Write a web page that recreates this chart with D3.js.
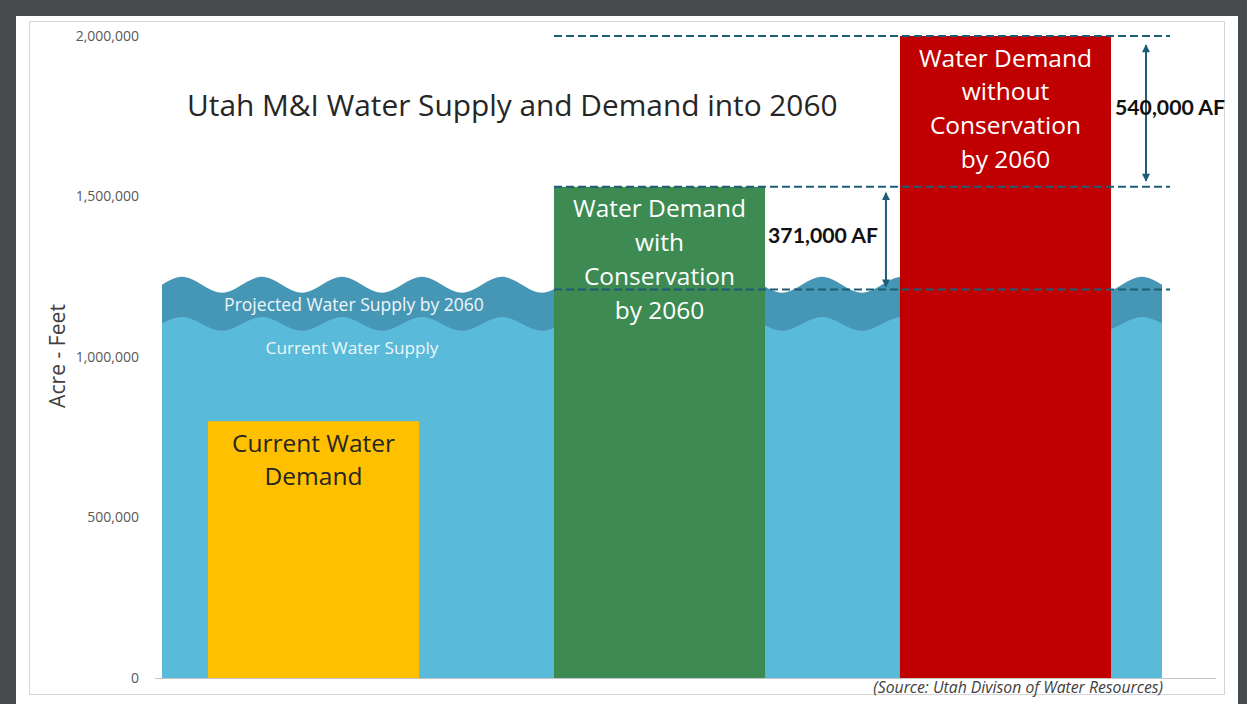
<!DOCTYPE html>
<html><head><meta charset="utf-8">
<script src="https://cdn.jsdelivr.net/npm/d3@7"></script>
<style>html,body{margin:0;padding:0;background:#484b4e;overflow:hidden} svg{display:block}</style>
</head><body><svg id="c" width="1247" height="704"></svg>
<script>
// ---------- data ----------
const categories = ["Current Water Demand", "Water Demand with Conservation by 2060", "Water Demand without Conservation by 2060"];
const demandValues = [800000, 1530000, 2000000];
const barLabelLines = [["Current Water", "Demand"], ["Water Demand", "with", "Conservation", "by 2060"], ["Water Demand", "without", "Conservation", "by 2060"]];
const yTicks = [0, 500000, 1000000, 1500000, 2000000];
const supplyLevel2060 = 1210000;
// crest / trough levels of the supply waves (edge, 25 alternating extremes, edge)
const projectedSupplyWave = [1225000, 1250000, 1200000, 1250000, 1200000, 1250000, 1200000, 1250000, 1200000, 1250000, 1200000, 1250000, 1200000, 1250000, 1200000, 1250000, 1200000, 1250000, 1200000, 1250000, 1200000, 1250000, 1200000, 1250000, 1200000, 1250000, 1225000];
const currentSupplyWave = [1105000, 1125000, 1082000, 1125000, 1082000, 1125000, 1082000, 1125000, 1082000, 1125000, 1082000, 1125000, 1082000, 1125000, 1082000, 1125000, 1082000, 1125000, 1082000, 1125000, 1082000, 1125000, 1082000, 1125000, 1082000, 1125000, 1105000];
const supplyLabels = ["Projected Water Supply by 2060", "Current Water Supply"];
const gapLabels = ["371,000 AF", "540,000 AF"];
const titleText = "Utah M&I Water Supply and Demand into 2060";
const yAxisTitle = "Acre - Feet";
const sourceText = "(Source: Utah Divison of Water Resources)";

// ---------- styles ----------
const barFill = ["#ffc000", "#3d8a53", "#c00000"];
const barText = ["#262626", "#ffffff", "#ffffff"];
const annoColor = "#1e5c77";
const sans = "'Open Sans', 'Noto Sans', sans-serif";

const svg = d3.select("#c");
svg.append("rect").attr("x", 16).attr("y", 16).attr("width", 1222).attr("height", 700).attr("fill", "#ffffff");
svg.append("rect").attr("x", 29.5).attr("y", 21.5).attr("width", 1195).attr("height", 673)
  .attr("fill", "none").attr("stroke", "#d6d6d6").attr("stroke-width", 1);

const y = d3.scaleLinear().domain([0, 2000000]).range([678, 36]);
const x = d3.scaleBand().domain(categories).range([208, 1111]).paddingInner(0.39).paddingOuter(0);
const xw = d3.scaleLinear().domain([0, 24]).range([182, 1142]);
const waveIdx = (i, n) => i === 0 ? -0.5 : (i === n - 1 ? 24.5 : i - 1);

function fit(sel, w) {
  const cur = sel.node().getComputedTextLength();
  const fs = parseFloat(sel.attr("font-size"));
  sel.attr("font-size", fs * w / cur);
  return fs * w / cur;
}

// ---------- water ----------
function waveArea(levels) {
  const n = levels.length;
  const pts = levels.map((v, i) => [xw(waveIdx(i, n)), y(v)]);
  return d3.area().x(d => d[0]).y0(y(0)).y1(d => d[1]).curve(d3.curveMonotoneX)(pts);
}
svg.append("path").attr("d", waveArea(projectedSupplyWave)).attr("fill", "#4696b5");
svg.append("path").attr("d", waveArea(currentSupplyWave)).attr("fill", "#5abad9");

// axis baseline
svg.append("line").attr("x1", 155).attr("x2", 1216).attr("y1", y(0) + 0.5).attr("y2", y(0) + 0.5)
  .attr("stroke", "#c4c4c4").attr("stroke-width", 1);

// supply labels
const sl1 = svg.append("text").attr("x", 354).attr("y", 305).attr("dy", "0.35em").attr("text-anchor", "middle")
  .attr("font-family", sans).attr("font-size", 16).attr("fill", "#eef7fb").text(supplyLabels[0]);
fit(sl1, 260);
const sl2 = svg.append("text").attr("x", 352).attr("y", 348).attr("dy", "0.35em").attr("text-anchor", "middle")
  .attr("font-family", sans).attr("font-size", 16).attr("fill", "#eef7fb").text(supplyLabels[1]);
fit(sl2, 173);

// ---------- bars ----------
svg.selectAll("rect.bar").data(categories).join("rect").attr("class", "bar")
  .attr("x", d => x(d)).attr("width", x.bandwidth())
  .attr("y", (d, i) => y(demandValues[i])).attr("height", (d, i) => y(0) - y(demandValues[i]))
  .attr("fill", (d, i) => barFill[i]);

// bar labels
const probe = svg.append("text").attr("font-family", sans).attr("font-size", 25).text("Water Demand");
const barFs = fit(probe, 173);
probe.remove();
categories.forEach((c, i) => {
  barLabelLines[i].forEach((ln, j) => {
    svg.append("text").attr("x", x(c) + x.bandwidth() / 2).attr("y", y(demandValues[i]) + 22 + j * 33.7)
      .attr("dy", "0.35em").attr("text-anchor", "middle").attr("font-family", sans)
      .attr("font-size", barFs).attr("fill", barText[i]).text(ln);
  });
});

// ---------- annotations ----------
const xStart = x(categories[1]);
const xEnd = x(categories[2]) + x.bandwidth() + 59;
[demandValues[2], demandValues[1], supplyLevel2060].forEach(v => {
  svg.append("line").attr("x1", xStart).attr("x2", xEnd).attr("y1", y(v)).attr("y2", y(v))
    .attr("stroke", annoColor).attr("stroke-width", 2).attr("stroke-dasharray", "8,4");
});

const defs = svg.append("defs");
defs.append("marker").attr("id", "ah").attr("viewBox", "0 0 10 10").attr("refX", 9).attr("refY", 5)
  .attr("markerWidth", 9).attr("markerHeight", 8).attr("markerUnits", "userSpaceOnUse").attr("orient", "auto-start-reverse")
  .append("path").attr("d", "M0,0 L10,5 L0,10 Z").attr("fill", annoColor);

const ax1 = x(categories[2]) - 14;
svg.append("line").attr("x1", ax1).attr("x2", ax1).attr("y1", y(demandValues[1]) + 6).attr("y2", y(supplyLevel2060) - 3)
  .attr("stroke", annoColor).attr("stroke-width", 2).attr("marker-start", "url(#ah)").attr("marker-end", "url(#ah)");
const ax2 = x(categories[2]) + x.bandwidth() + 35;
svg.append("line").attr("x1", ax2).attr("x2", ax2).attr("y1", y(demandValues[2]) + 9).attr("y2", y(demandValues[1]) - 6)
  .attr("stroke", annoColor).attr("stroke-width", 2).attr("marker-start", "url(#ah)").attr("marker-end", "url(#ah)");

const g1 = svg.append("text").attr("x", 823).attr("y", 236).attr("dy", "0.35em").attr("text-anchor", "middle")
  .attr("font-family", "Lato, 'DejaVu Sans', sans-serif").attr("font-weight", "bold").attr("font-size", 17)
  .attr("fill", "#111").text(gapLabels[0]);
fit(g1, 110);
const g2 = svg.append("text").attr("x", 1115).attr("y", 108).attr("dy", "0.35em").attr("text-anchor", "start")
  .attr("font-family", "Lato, 'DejaVu Sans', sans-serif").attr("font-weight", "bold").attr("font-size", 17)
  .attr("fill", "#111").text(gapLabels[1]);
fit(g2, 110);

// ---------- axis labels ----------
svg.selectAll("text.tick").data(yTicks).join("text").attr("class", "tick")
  .attr("x", 139).attr("y", d => y(d)).attr("dy", "0.35em").attr("text-anchor", "end")
  .attr("font-family", sans).attr("font-size", 14).attr("fill", "#595959").text(d => d3.format(",")(d));

const yt = svg.append("text").attr("transform", "translate(58,356) rotate(-90)").attr("dy", "0.35em")
  .attr("text-anchor", "middle").attr("font-family", sans).attr("font-size", 17).attr("fill", "#404040").text(yAxisTitle);
fit(yt, 104);

const tt = svg.append("text").attr("x", 187).attr("y", 106).attr("dy", "0.35em").attr("text-anchor", "start")
  .attr("font-family", sans).attr("font-size", 30).attr("fill", "#262626").text(titleText);
fit(tt, 651);

const st = svg.append("text").attr("x", 1163).attr("y", 687).attr("dy", "0.35em").attr("text-anchor", "end")
  .attr("font-family", sans).attr("font-style", "italic").attr("font-size", 14).attr("fill", "#404040").text(sourceText);
fit(st, 290);
</script></body></html>
